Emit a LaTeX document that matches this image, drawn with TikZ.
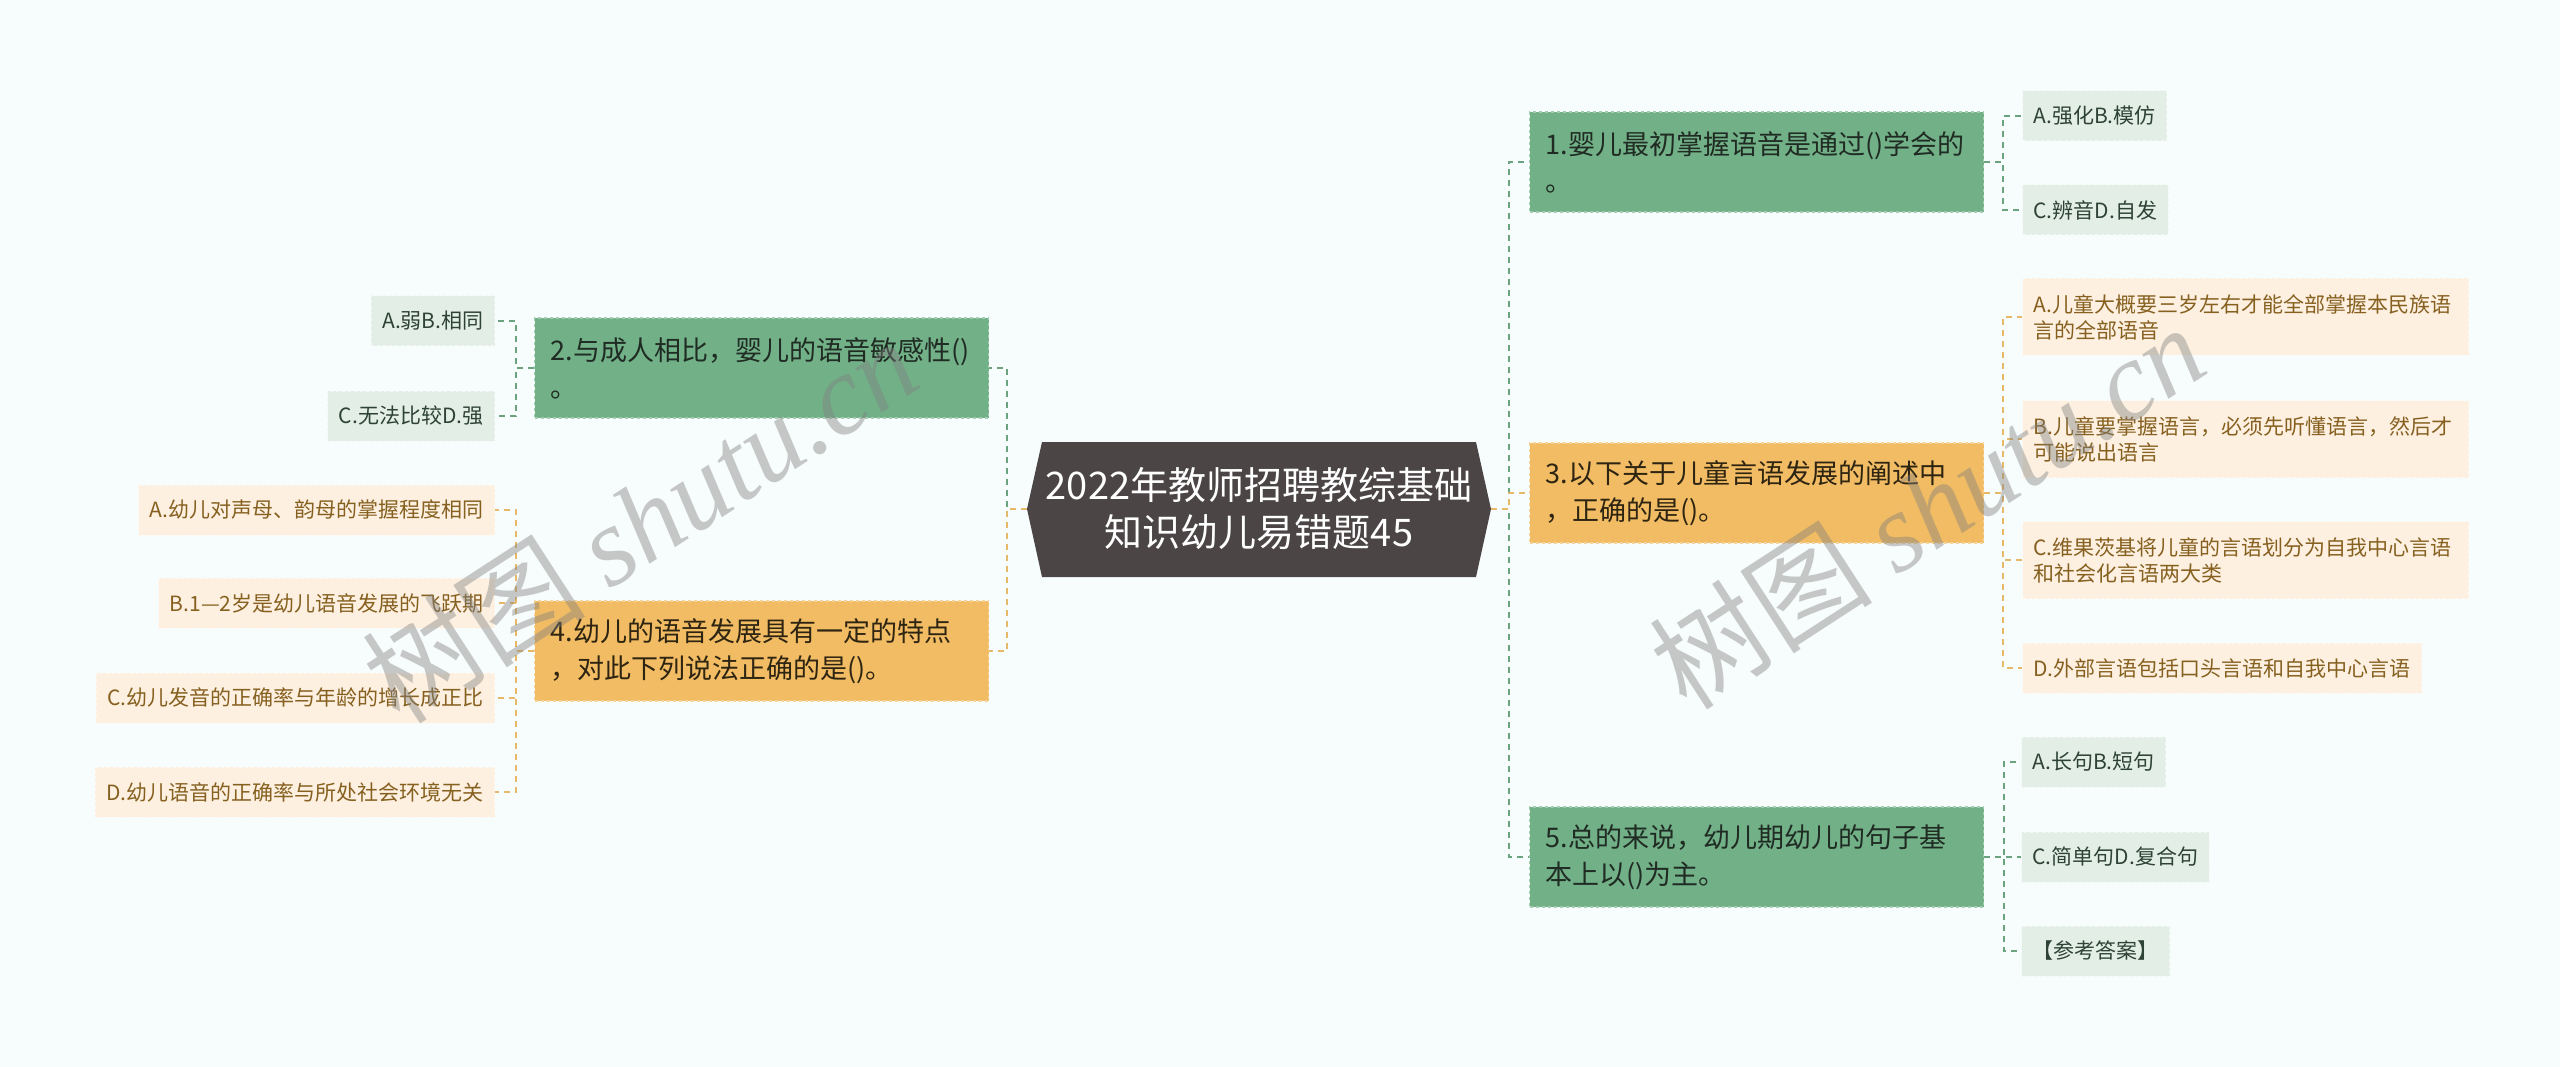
\documentclass[tikz,border=0pt]{standalone}
\usepackage{fontspec}
\setmainfont{Noto Sans CJK SC}
\newfontfamily\wmserif{Liberation Serif}
\definecolor{bg}{HTML}{F7FCFC}
\definecolor{gfill}{HTML}{72B087}
\definecolor{ofill}{HTML}{F1BC63}
\definecolor{glight}{HTML}{E3EFE6}
\definecolor{olight}{HTML}{FDF0E1}
\definecolor{glinec}{HTML}{6AA37E}
\definecolor{olinec}{HTML}{E6B868}
\definecolor{rootfill}{HTML}{4B4546}
\definecolor{gtext}{HTML}{1F2B23}
\definecolor{otext}{HTML}{2E2412}
\definecolor{gctext}{HTML}{2E4236}
\definecolor{octext}{HTML}{86601F}
\begin{document}
\begin{tikzpicture}[x=1pt,y=-1pt,
  mainbox/.style={minimum width=454pt, minimum height=100pt, text width=422pt,
    inner xsep=16pt, inner ysep=0pt, align=left,
    font=\fontsize{27pt}{37pt}\selectfont, dashed, line width=1.2pt},
  gmain/.style={mainbox, anchor=west, fill=gfill, draw=gfill!65!white, text=gtext},
  omain/.style={mainbox, anchor=west, fill=ofill, draw=ofill!65!white, text=otext},
  childbox/.style={minimum height=50pt, inner xsep=11pt, inner ysep=0pt,
    font=\fontsize{21pt}{26pt}\selectfont, dashed, line width=1pt},
  gchild/.style={childbox, fill=glight, draw=glight!50!white, text=gctext},
  ochild/.style={childbox, fill=olight, draw=olight!50!white, text=octext},
  wide/.style={text width=424pt, align=left, minimum height=77pt},
  gconn/.style={draw=glinec, line width=1.8pt, dash pattern=on 6pt off 5pt},
  oconn/.style={draw=olinec, line width=1.8pt, dash pattern=on 6pt off 5pt},
  wm/.style={rotate=33, text=gray, text opacity=0.42, font=\fontsize{112pt}{112pt}\selectfont}
]
\fill[bg] (0,0) rectangle (2560,1067);
\useasboundingbox (0,0) rectangle (2560,1067);

% root
\fill[rootfill] (1027,509) -- (1042,442) -- (1476,442) -- (1491,509) -- (1476,577) -- (1042,577) -- cycle;
\node[text=white, align=center, font=\fontsize{38pt}{47pt}\selectfont] (root) at (1259,509)
  {2022年教师招聘教综基础\\知识幼儿易错题45};
\coordinate (rootL) at (1027,509);
\coordinate (rootR) at (1491,509);

% main nodes
\node[gmain] (n1) at (1529,162) {1.婴儿最初掌握语音是通过()学会的\\。};
\node[omain] (n3) at (1529,493) {3.以下关于儿童言语发展的阐述中\\，正确的是()。};
\node[gmain] (n5) at (1529,857) {5.总的来说，幼儿期幼儿的句子基\\本上以()为主。};
\node[gmain] (n2) at (534,368) {2.与成人相比，婴儿的语音敏感性()\\。};
\node[omain] (n4) at (534,651) {4.幼儿的语音发展具有一定的特点\\，对此下列说法正确的是()。};

% children of n1
\node[gchild, anchor=west] (n1a) at (2022,116) {A.强化B.模仿};
\node[gchild, anchor=west] (n1b) at (2022,210) {C.辨音D.自发};
% children of n3
\node[ochild, wide, anchor=west] (n3a) at (2022,317) {A.儿童大概要三岁左右才能全部掌握本民族语\\言的全部语音};
\node[ochild, wide, anchor=west] (n3b) at (2022,439) {B.儿童要掌握语言，必须先听懂语言，然后才\\可能说出语言};
\node[ochild, wide, anchor=west] (n3c) at (2022,560) {C.维果茨基将儿童的言语划分为自我中心言语\\和社会化言语两大类};
\node[ochild, anchor=west] (n3d) at (2022,668) {D.外部言语包括口头言语和自我中心言语};
% children of n5
\node[gchild, anchor=west] (n5a) at (2021,762) {A.长句B.短句};
\node[gchild, anchor=west] (n5b) at (2021,857) {C.简单句D.复合句};
\node[gchild, anchor=west] (n5c) at (2021,951) {【参考答案】};
% children of n2
\node[gchild, anchor=east] (n2a) at (495,321) {A.弱B.相同};
\node[gchild, anchor=east] (n2b) at (495,416) {C.无法比较D.强};
% children of n4
\node[ochild, anchor=east] (n4a) at (495,510) {A.幼儿对声母、韵母的掌握程度相同};
\node[ochild, anchor=east] (n4b) at (495,603) {B.1—2岁是幼儿语音发展的飞跃期};
\node[ochild, anchor=east] (n4c) at (495,698) {C.幼儿发音的正确率与年龄的增长成正比};
\node[ochild, anchor=east] (n4d) at (495,792) {D.幼儿语音的正确率与所处社会环境无关};

% connectors root
\draw[gconn] (rootR) -- ++(18,0) |- (n1.west);
\draw[gconn] (rootR) -- ++(18,0) |- (n5.west);
\draw[oconn] (rootR) -- ++(18,0) |- (n3.west);
\draw[gconn] (rootL) -- ++(-20,0) |- (n2.east);
\draw[oconn] (rootL) -- ++(-20,0) |- (n4.east);

% connectors n1
\draw[gconn] (n1.east) -- ++(19,0) |- (n1a.west);
\draw[gconn] (n1.east) -- ++(19,0) |- (n1b.west);
% n3
\draw[oconn] (n3.east) -- ++(19,0) |- (n3a.west);
\draw[oconn] (n3.east) -- ++(19,0) |- (n3b.west);
\draw[oconn] (n3.east) -- ++(19,0) |- (n3c.west);
\draw[oconn] (n3.east) -- ++(19,0) |- (n3d.west);
% n5
\draw[gconn] (n5.east) -- ++(20,0) |- (n5a.west);
\draw[gconn] (n5.east) -- ++(20,0) |- (n5b.west);
\draw[gconn] (n5.east) -- ++(20,0) |- (n5c.west);
% n2
\draw[gconn] (n2.west) -- ++(-18,0) |- (n2a.east);
\draw[gconn] (n2.west) -- ++(-18,0) |- (n2b.east);
% n4
\draw[oconn] (n4.west) -- ++(-18,0) |- (n4a.east);
\draw[oconn] (n4.west) -- ++(-18,0) |- (n4b.east);
\draw[oconn] (n4.west) -- ++(-18,0) |- (n4c.east);
\draw[oconn] (n4.west) -- ++(-18,0) |- (n4d.east);

% watermarks
\node[wm] (wm1) at (640,520) {树图 {\wmserif\itshape shutu.cn}};
\node[wm] (wm2) at (1927,506) {树图 {\wmserif\itshape shutu.cn}};
\end{tikzpicture}
\end{document}
